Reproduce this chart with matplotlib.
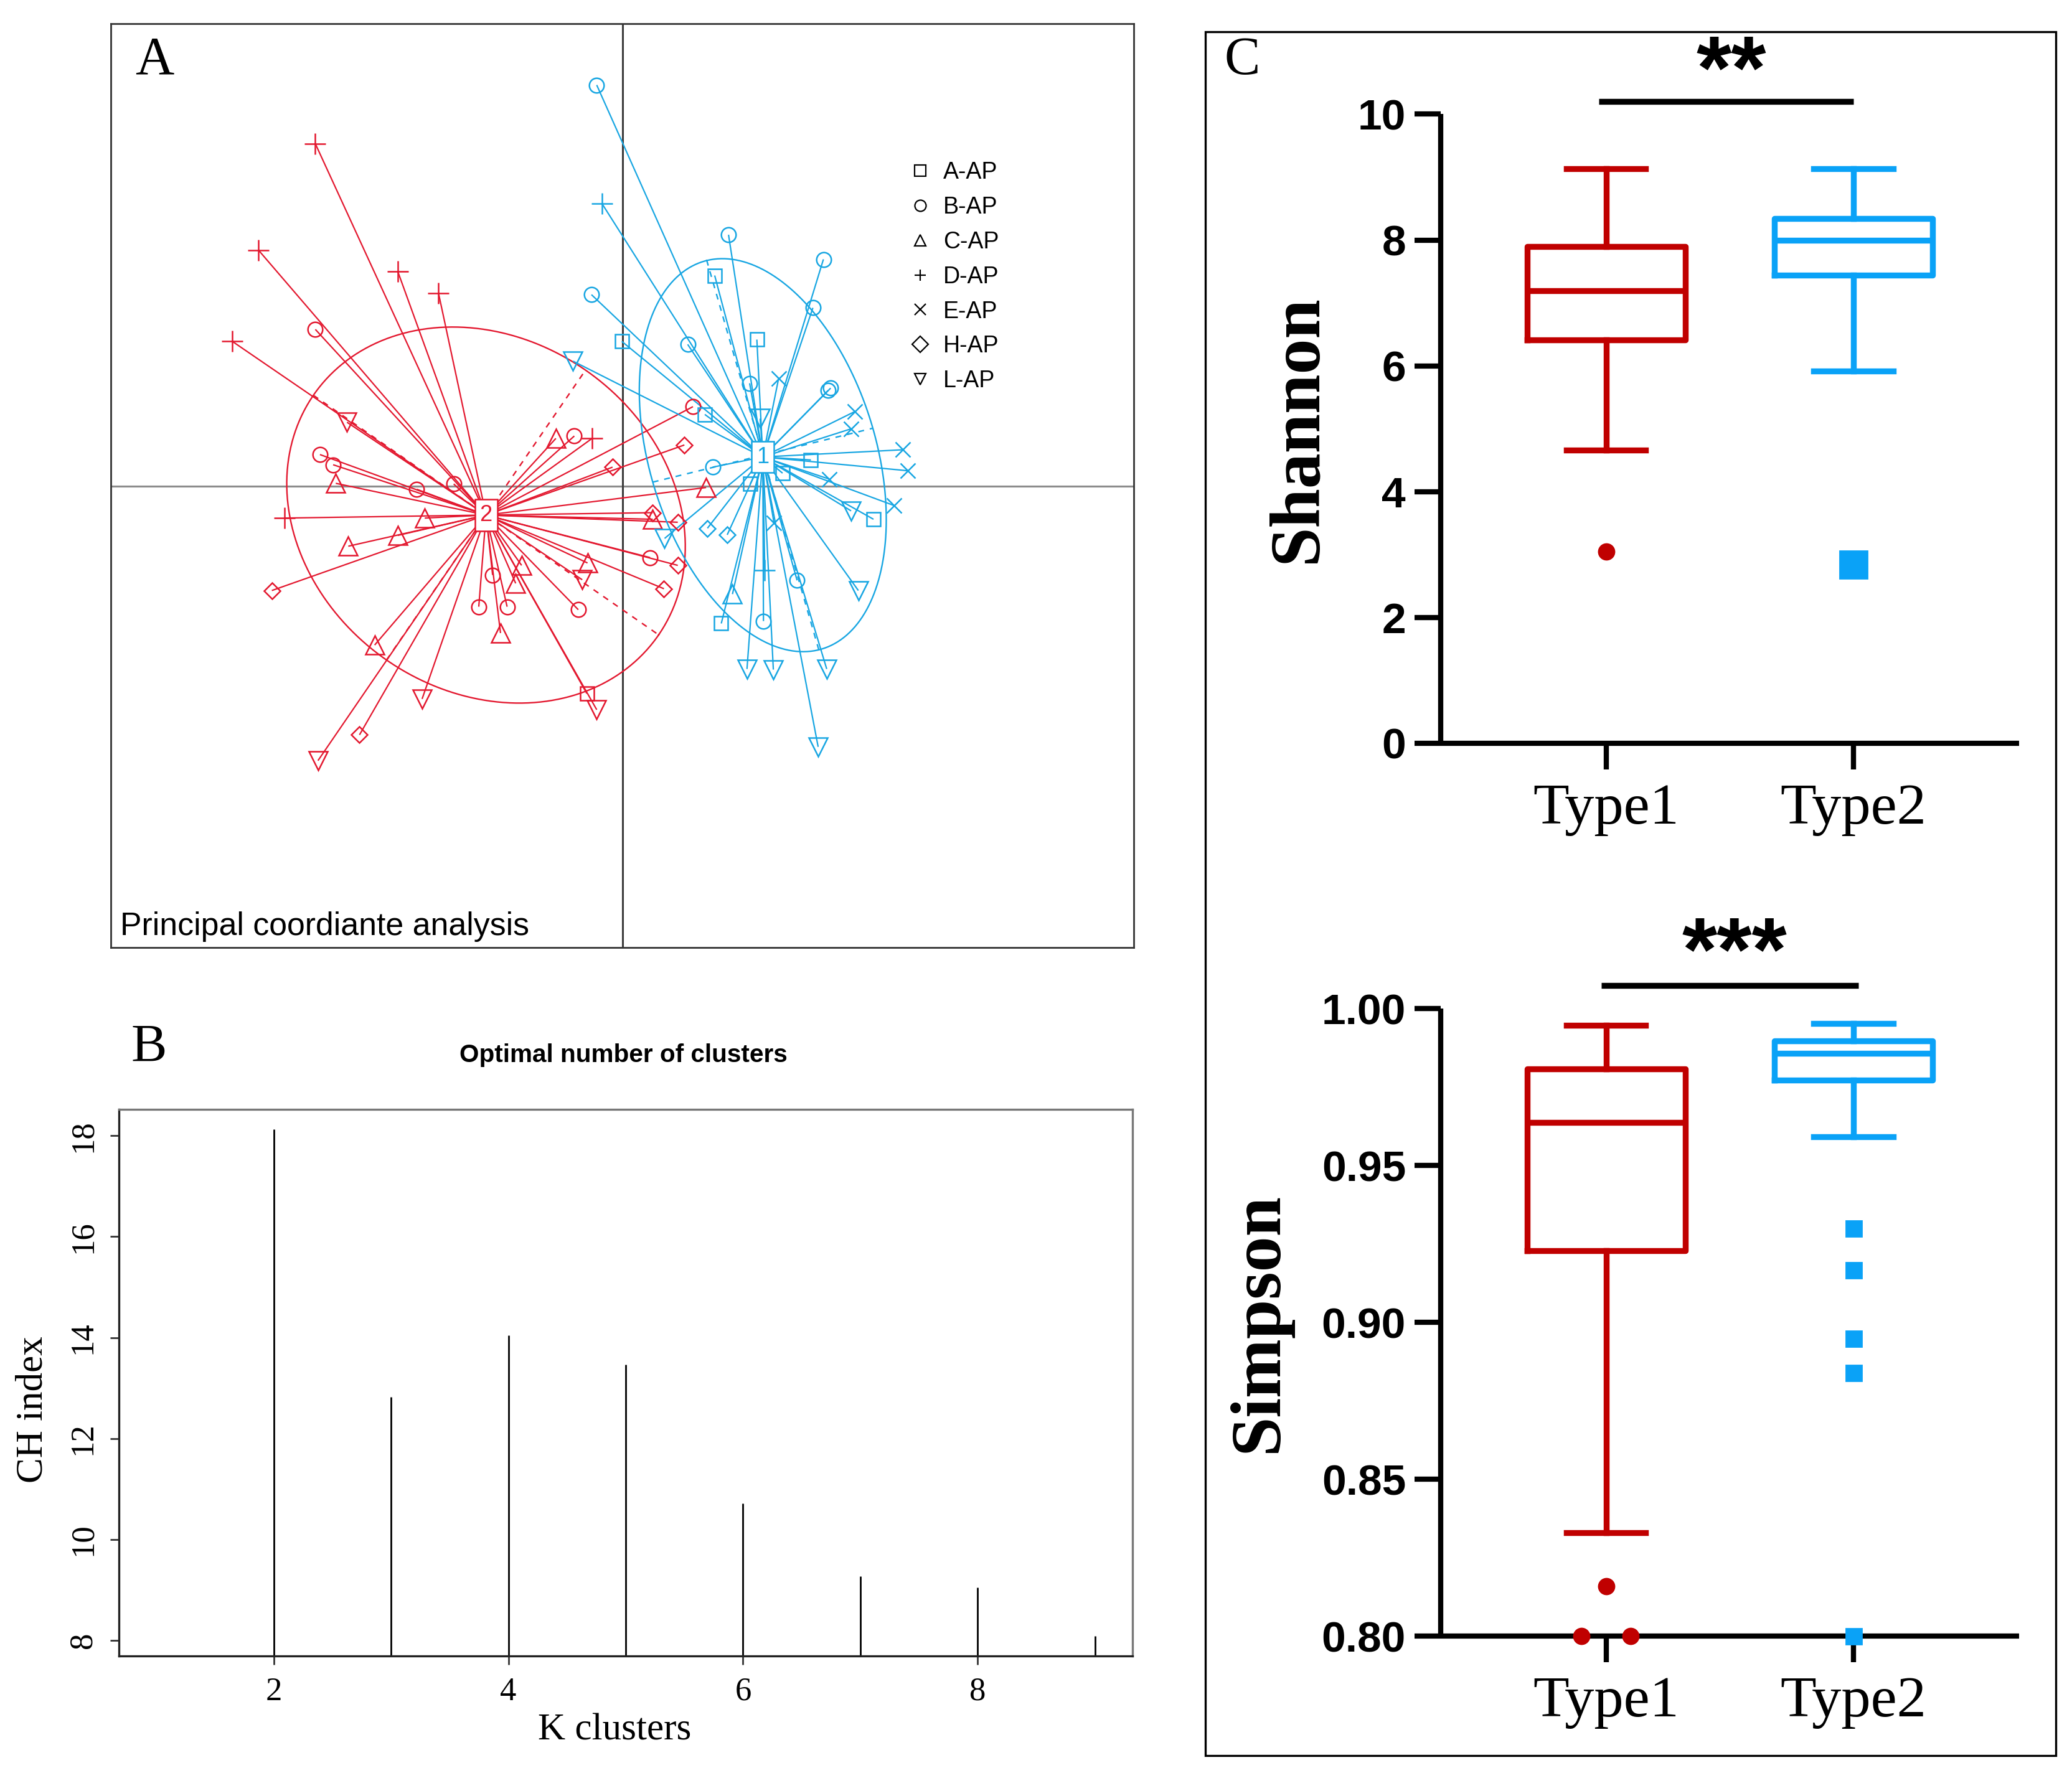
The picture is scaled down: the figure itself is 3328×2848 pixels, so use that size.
import numpy as np
import matplotlib
matplotlib.use('Agg')
import matplotlib.pyplot as plt
from matplotlib.lines import Line2D
from matplotlib.collections import LineCollection
from matplotlib.patches import Rectangle

SERIF = ['Liberation Serif', 'DejaVu Serif']
SANS = ['Liberation Sans', 'DejaVu Sans']

# ------------------------------------------------------------------ data
species = ['A-AP', 'B-AP', 'C-AP', 'D-AP', 'E-AP', 'H-AP', 'L-AP']

# Panel A: PCoA scores (axis1, axis2) of samples, by cluster and species
cluster2_centroid = (-2.07, -0.48)
cluster2_points = {
    'A-AP': [(-0.54, -3.46)],
    'B-AP': [(-4.66, 2.62), (-4.59, 0.53), (-4.39, 0.36), (-3.12, -0.05), (-2.56, 0.04),
             (-0.73, 0.84), (1.07, 1.33), (-1.97, -1.48), (-2.18, -2.01), (-1.75, -2.01),
             (-0.67, -2.06), (0.42, -1.19)],
    'C-AP': [(-4.35, 0.05), (-3.00, -0.53), (-4.16, -1.00), (-3.41, -0.82), (-1.01, 0.80),
             (-1.53, -1.32), (-1.62, -1.62), (-0.53, -1.28), (-1.85, -2.45), (-3.76, -2.65),
             (1.27, -0.02), (0.46, -0.55)],
    'D-AP': [(-4.66, 5.72), (-5.52, 3.94), (-3.41, 3.59), (-2.79, 3.22), (-5.92, 2.42),
             (-0.46, 0.80), (-5.13, -0.53)],
    'E-AP': [],
    'H-AP': [(-5.32, -1.74), (-3.99, -4.15), (-0.15, 0.32), (0.94, 0.69), (0.46, -0.44),
             (0.84, -0.60), (0.84, -1.32), (0.63, -1.71)],
    'L-AP': [(-4.18, 1.07), (-0.61, -1.56), (-3.04, -3.55), (-4.62, -4.58), (-0.39, -3.73)],
}
cluster1_centroid = (2.13, 0.49)
cluster1_points = {
    'A-AP': [(1.40, 3.52), (2.04, 2.45), (-0.01, 2.42), (1.25, 1.20), (2.86, 0.44),
             (2.43, 0.22), (1.94, 0.04), (3.81, -0.55), (1.50, -2.29)],
    'B-AP': [(-0.39, 6.70), (1.61, 4.20), (3.05, 3.79), (2.89, 2.98), (-0.47, 3.20),
             (0.99, 2.37), (1.93, 1.72), (3.12, 1.60), (3.16, 1.64), (1.37, 0.32),
             (2.65, -1.57), (2.14, -2.25)],
    'C-AP': [(1.67, -1.80)],
    'D-AP': [(-0.31, 4.72), (2.16, -1.40)],
    'E-AP': [(2.37, 1.80), (3.53, 1.25), (3.47, 0.96), (4.25, 0.61), (4.33, 0.26),
             (4.12, -0.32), (3.14, 0.12), (2.30, -0.61)],
    'H-AP': [(1.29, -0.70), (1.59, -0.81)],
    'L-AP': [(-0.75, 2.09), (2.09, 1.13), (3.47, -0.41), (3.58, -1.74), (1.89, -3.05),
             (2.29, -3.06), (3.10, -3.05), (2.97, -4.35), (0.64, -0.87)],
}
# inertia ellipses: centre and two semi-axis vectors
ellipse2_center = (-2.07, -0.48)
ellipse2_axis_a = (2.62, -2.00)
ellipse2_axis_b = (1.51, 2.42)
ellipse1_center = (2.13, 0.52)
ellipse1_axis_a = (-0.85, 3.25)
ellipse1_axis_b = (1.67, 0.45)

# Panel B: Calinski-Harabasz index by number of clusters
k_clusters = [2, 3, 4, 5, 6, 7, 8, 9]
ch_index = [18.12, 12.82, 14.05, 13.46, 10.72, 9.27, 9.05, 8.09]

# Panel C: box-plot statistics
types = ['Type1', 'Type2']
shannon_stats = [
    dict(med=7.19, q1=6.41, q3=7.90, whislo=4.66, whishi=9.13, fliers=[3.05]),
    dict(med=8.00, q1=7.44, q3=8.34, whislo=5.92, whishi=9.13, fliers=[2.84]),
]
simpson_stats = [
    dict(med=0.9637, q1=0.9229, q3=0.9809, whislo=0.833, whishi=0.9947,
         fliers=[0.816, 0.80, 0.80]),
    dict(med=0.9858, q1=0.9773, q3=0.9897, whislo=0.9592, whishi=0.9952,
         fliers=[0.930, 0.9167, 0.895, 0.8839, 0.80]),
]
shannon_sig = '**'
simpson_sig = '***'

# ------------------------------------------------------------------ styles
RED_A, BLUE_A = '#E3182F', '#18A6E2'
RED_C, BLUE_C = '#C00000', '#0AA2F7'
marker_style = {'A-AP': ('s', 8.0), 'B-AP': ('o', 8.5), 'C-AP': ('^', 10.5),
                'D-AP': ('+', 12.0), 'E-AP': ('x', 8.5), 'H-AP': ('D', 6.8),
                'L-AP': ('v', 10.5)}

fig = plt.figure(figsize=(16.64, 14.24), dpi=200)

# ================================================================== Panel A
axA = fig.add_axes([0.0536, 0.4656, 0.4936, 0.5209])
axA.set_xlim(-7.76, 7.76)
axA.set_ylim(-7.70, 7.72)
axA.set_xticks([])
axA.set_yticks([])
for s in axA.spines.values():
    s.set_color('#333333')
    s.set_linewidth(1.0)
axA.axhline(0, color='#8c8c8c', lw=1.1, zorder=1)
axA.axvline(0, color='#3c3c3c', lw=1.1, zorder=1)

groups = [
    ('2', cluster2_centroid, cluster2_points, ellipse2_center, ellipse2_axis_a, ellipse2_axis_b, RED_A),
    ('1', cluster1_centroid, cluster1_points, ellipse1_center, ellipse1_axis_a, ellipse1_axis_b, BLUE_A),
]
for label, cen, pts, ec, ea, eb, col in groups:
    segs = [[cen, p] for sp in species for p in pts[sp]]
    axA.add_collection(LineCollection(segs, colors=col, linewidths=0.8, zorder=2))
    for sp in species:
        if not pts[sp]:
            continue
        arr = np.array(pts[sp])
        m, ms = marker_style[sp]
        axA.plot(arr[:, 0], arr[:, 1], ls='none', marker=m, ms=ms, mfc='none',
                 mec=col, mew=0.9, zorder=3)
    t = np.linspace(0, 2 * np.pi, 400)
    c = np.array(ec)[:, None]
    e = c + np.outer(ea, np.cos(t)) + np.outer(eb, np.sin(t))
    axA.plot(e[0], e[1], color=col, lw=0.85, zorder=2)
    for v in (ea, eb):
        axA.plot([ec[0] - v[0], ec[0] + v[0]], [ec[1] - v[1], ec[1] + v[1]],
                 color=col, lw=0.85, ls=(0, (4, 4)), zorder=2)
    axA.text(cen[0], cen[1], label, ha='center', va='center', color=col,
             fontsize=13, family=SANS, zorder=6,
             bbox=dict(boxstyle='square,pad=0.22', fc='white', ec=col, lw=0.9))

handles = [Line2D([], [], ls='none', marker=marker_style[sp][0], ms=6.5, mfc='none',
                  mec='black', mew=0.8, label=sp) for sp in species]
axA.legend(handles=handles, loc='upper left', bbox_to_anchor=(0.759, 0.874),
           frameon=False, prop={'family': SANS, 'size': 13.5}, handlelength=1.0,
           handletextpad=0.5, labelspacing=0.53, borderpad=0.4)
axA.text(0.009, 0.0227, 'Principal coordiante analysis', transform=axA.transAxes,
         ha='left', va='center', fontsize=18.7, family=SANS)
fig.text(0.0746, 0.9656, 'A', ha='center', va='center', fontsize=31, family=SERIF)

# ================================================================== Panel B
axB = fig.add_axes([0.0574, 0.0659, 0.4892, 0.3084])
axB.set_xlim(0.68, 9.32)
axB.set_ylim(7.69, 18.52)
axB.vlines(k_clusters, 7.69, ch_index, color='black', lw=1.0)
axB.set_xticks([2, 4, 6, 8])
axB.set_yticks([8, 10, 12, 14, 16, 18])
axB.tick_params(axis='both', direction='out', length=5, width=1.0, color='#333333',
                labelsize=19, pad=7)
axB.tick_params(axis='y', labelrotation=90)
for lab in axB.get_yticklabels():
    lab.set_va('center')
for lab in axB.get_xticklabels() + axB.get_yticklabels():
    lab.set_family(SERIF)
for name, s in axB.spines.items():
    s.set_linewidth(1.2)
    s.set_color('#222222' if name in ('bottom', 'left') else '#777777')
fig.text(0.0720, 0.4087, 'B', ha='center', va='center', fontsize=31, family=SERIF)
fig.text(0.3010, 0.4050, 'Optimal number of clusters', ha='center', va='center',
         fontsize=14.6, fontweight='bold', family=SANS)
fig.text(0.0159, 0.2050, 'CH index', ha='center', va='center', rotation=90,
         fontsize=22, family=SERIF)
fig.text(0.2966, 0.0240, 'K clusters', ha='center', va='center', fontsize=22, family=SERIF)

# ================================================================== Panel C
fig.patches.append(Rectangle((0.5816, 0.0097), 0.4107, 0.9723, transform=fig.transFigure,
                             fill=False, ec='black', lw=1.2))
fig.text(0.5995, 0.9656, 'C', ha='center', va='center', fontsize=31, family=SERIF)


def dodge(values, step=0.1):
    offs = []
    for i, v in enumerate(values):
        same = [j for j, w in enumerate(values) if w == v]
        n = len(same)
        k = same.index(i)
        offs.append(0.0 if n == 1 else (k - (n - 1) / 2) * 2 * step)
    return offs


def box_panel(ax, stats, ylim, yticks, yfmt, ylabel, label_x, sig, sig_x, sig_y,
              star_y, flier_marker, flier_ms):
    cols = [RED_C, BLUE_C]
    pos = [1, 2]
    art = ax.bxp(stats, positions=pos, widths=0.64, showfliers=False,
                 boxprops=dict(lw=3.4), whiskerprops=dict(lw=3.4),
                 capprops=dict(lw=3.4), medianprops=dict(lw=3.4))
    for i, col in enumerate(cols):
        art['boxes'][i].set_color(col)
        art['medians'][i].set_color(col)
        for j in (2 * i, 2 * i + 1):
            art['whiskers'][j].set_color(col)
            art['caps'][j].set_color(col)
        fl = stats[i]['fliers']
        xs = [pos[i] + o for o in dodge(fl)]
        ax.plot(xs, fl, ls='none', marker=flier_marker[i], ms=flier_ms[i], color=col,
                mec=col, clip_on=False, zorder=6)
    ax.set_xlim(0.33, 2.67)
    ax.set_ylim(*ylim)
    ax.set_yticks(yticks)
    ax.set_yticklabels([yfmt.format(v) for v in yticks])
    ax.set_xticks(pos)
    ax.set_xticklabels(types)
    for s in ('top', 'right'):
        ax.spines[s].set_visible(False)
    for s in ('left', 'bottom'):
        ax.spines[s].set_linewidth(3.0)
        ax.spines[s].set_capstyle('butt')
    ax.spines['left'].set_bounds(ylim[0], ylim[1])
    ax.tick_params(axis='both', direction='out', length=15, width=3.0)
    ax.tick_params(axis='y', pad=5)
    ax.tick_params(axis='x', pad=8)
    for lab in ax.get_yticklabels():
        lab.set_family(SANS)
        lab.set_fontweight('bold')
        lab.set_fontsize(25)
    for lab in ax.get_xticklabels():
        lab.set_family(SERIF)
        lab.set_fontsize(34)
    ax.set_ylabel(ylabel, family=SERIF, fontweight='bold', fontsize=41)
    ax.yaxis.set_label_coords(label_x, 0.5)
    ax.plot(sig_x, [sig_y, sig_y], color='black', lw=3.4, clip_on=False,
            solid_capstyle='butt')
    ax.text(np.mean(sig_x) + 0.02, star_y, sig, ha='center', va='center',
            fontsize=52, fontweight='bold', family=SANS, clip_on=False)


axS = fig.add_axes([0.6952, 0.5808, 0.2793, 0.3548])
box_panel(axS, shannon_stats, (0, 10), [0, 2, 4, 6, 8, 10], '{:.0f}', 'Shannon', -0.19,
          shannon_sig, [0.97, 2.0], 10.2, 10.62, ['o', 's'], [9, 16])

axP = fig.add_axes([0.6952, 0.0771, 0.2793, 0.3540])
box_panel(axP, simpson_stats, (0.80, 1.00), [0.80, 0.85, 0.90, 0.95, 1.00], '{:.2f}',
          'Simpson', -0.257, simpson_sig, [0.98, 2.02], 1.0074, 1.0165, ['o', 's'], [9, 9])

fig.savefig('out.png', dpi=200)
